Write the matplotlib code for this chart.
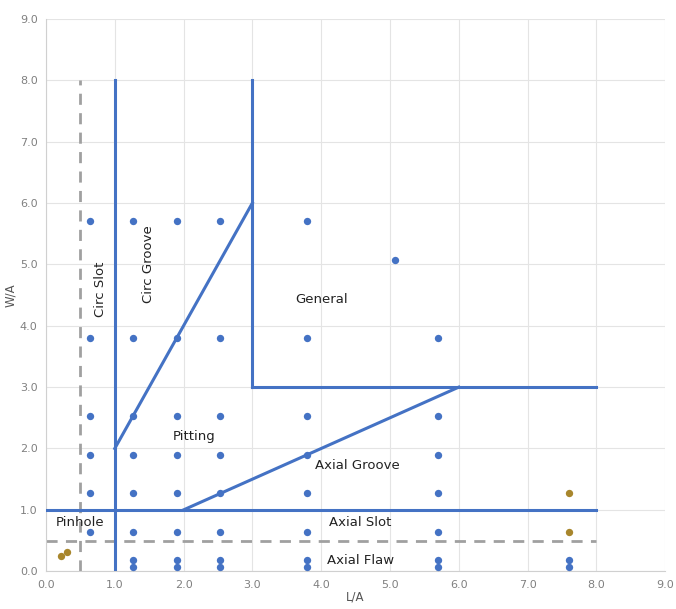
import numpy as np
import matplotlib.pyplot as plt

# test points (L/A, W/A)
blue_x = [0.633] * 6 + [1.267] * 8 + [1.9] * 8 + [2.533] * 8 + [3.8] * 8 + [5.067] + [5.7] * 7 + [7.6] * 2
blue_y = ([5.7, 3.8, 2.533, 1.9, 1.267, 0.633]
          + [5.7, 3.8, 2.533, 1.9, 1.267, 0.633, 0.19, 0.063] * 4
          + [5.067]
          + [3.8, 2.533, 1.9, 1.267, 0.633, 0.19, 0.063]
          + [0.19, 0.063])
gold_x = [0.22, 0.3, 7.6, 7.6]
gold_y = [0.25, 0.32, 1.267, 0.633]

# region boundaries
solid_lines = [
    ([1, 1], [0, 8]),
    ([3, 3], [8, 3]),
    ([3, 8], [3, 3]),
    ([1, 3], [2, 6]),
    ([2, 6], [1, 3]),
    ([0, 8], [1, 1]),
]
dashed_lines = [
    ([0.5, 0.5], [0, 8]),
    ([0, 8], [0.5, 0.5]),
]

# region labels: text, x, y, rotation
labels = [
    ("Circ Slot", 0.79, 4.6, 90),
    ("Circ Groove", 1.49, 5.0, 90),
    ("General", 4.0, 4.42, 0),
    ("Pitting", 2.15, 2.2, 0),
    ("Axial Groove", 4.52, 1.73, 0),
    ("Pinhole", 0.49, 0.8, 0),
    ("Axial Slot", 4.57, 0.8, 0),
    ("Axial Flaw", 4.57, 0.18, 0),
]

blue = '#4472C4'
gold = '#A8862C'

fig = plt.figure(figsize=(6.76, 6.09), dpi=100)
ax = fig.add_axes([0.068, 0.062, 0.916, 0.907])

for xs, ys in solid_lines:
    ax.plot(xs, ys, color=blue, linewidth=2.2, zorder=3)
for xs, ys in dashed_lines:
    ax.plot(xs, ys, color='#A0A0A0', linewidth=2, linestyle=(0, (4, 3)), zorder=2)

ax.scatter(blue_x, blue_y, s=28, color=blue, zorder=4, linewidths=0)
ax.scatter(gold_x, gold_y, s=28, color=gold, zorder=4, linewidths=0)

for text, x, y, rot in labels:
    ax.text(x, y, text, rotation=rot, ha='center', va='center', fontsize=9.5, color='#222222')

ax.set_xlim(0, 9)
ax.set_ylim(0, 9)
ax.set_xticks(np.arange(0, 10))
ax.set_yticks(np.arange(0, 10))
ax.set_xticklabels([f'{v:.1f}' for v in range(10)])
ax.set_yticklabels([f'{v:.1f}' for v in range(10)])
ax.tick_params(length=0, labelsize=8, colors='#808080', pad=6)
ax.grid(True, color='#E4E4E4', linewidth=0.8)
ax.set_axisbelow(True)
for side in ['top', 'right']:
    ax.spines[side].set_visible(False)
for side in ['left', 'bottom']:
    ax.spines[side].set_color('#D0D0D0')

ax.set_xlabel('L/A', fontsize=8.5, color='#555555', labelpad=1)
ax.set_ylabel('W/A', fontsize=8.5, color='#555555', labelpad=2)

fig.savefig('out.png', dpi=100)
